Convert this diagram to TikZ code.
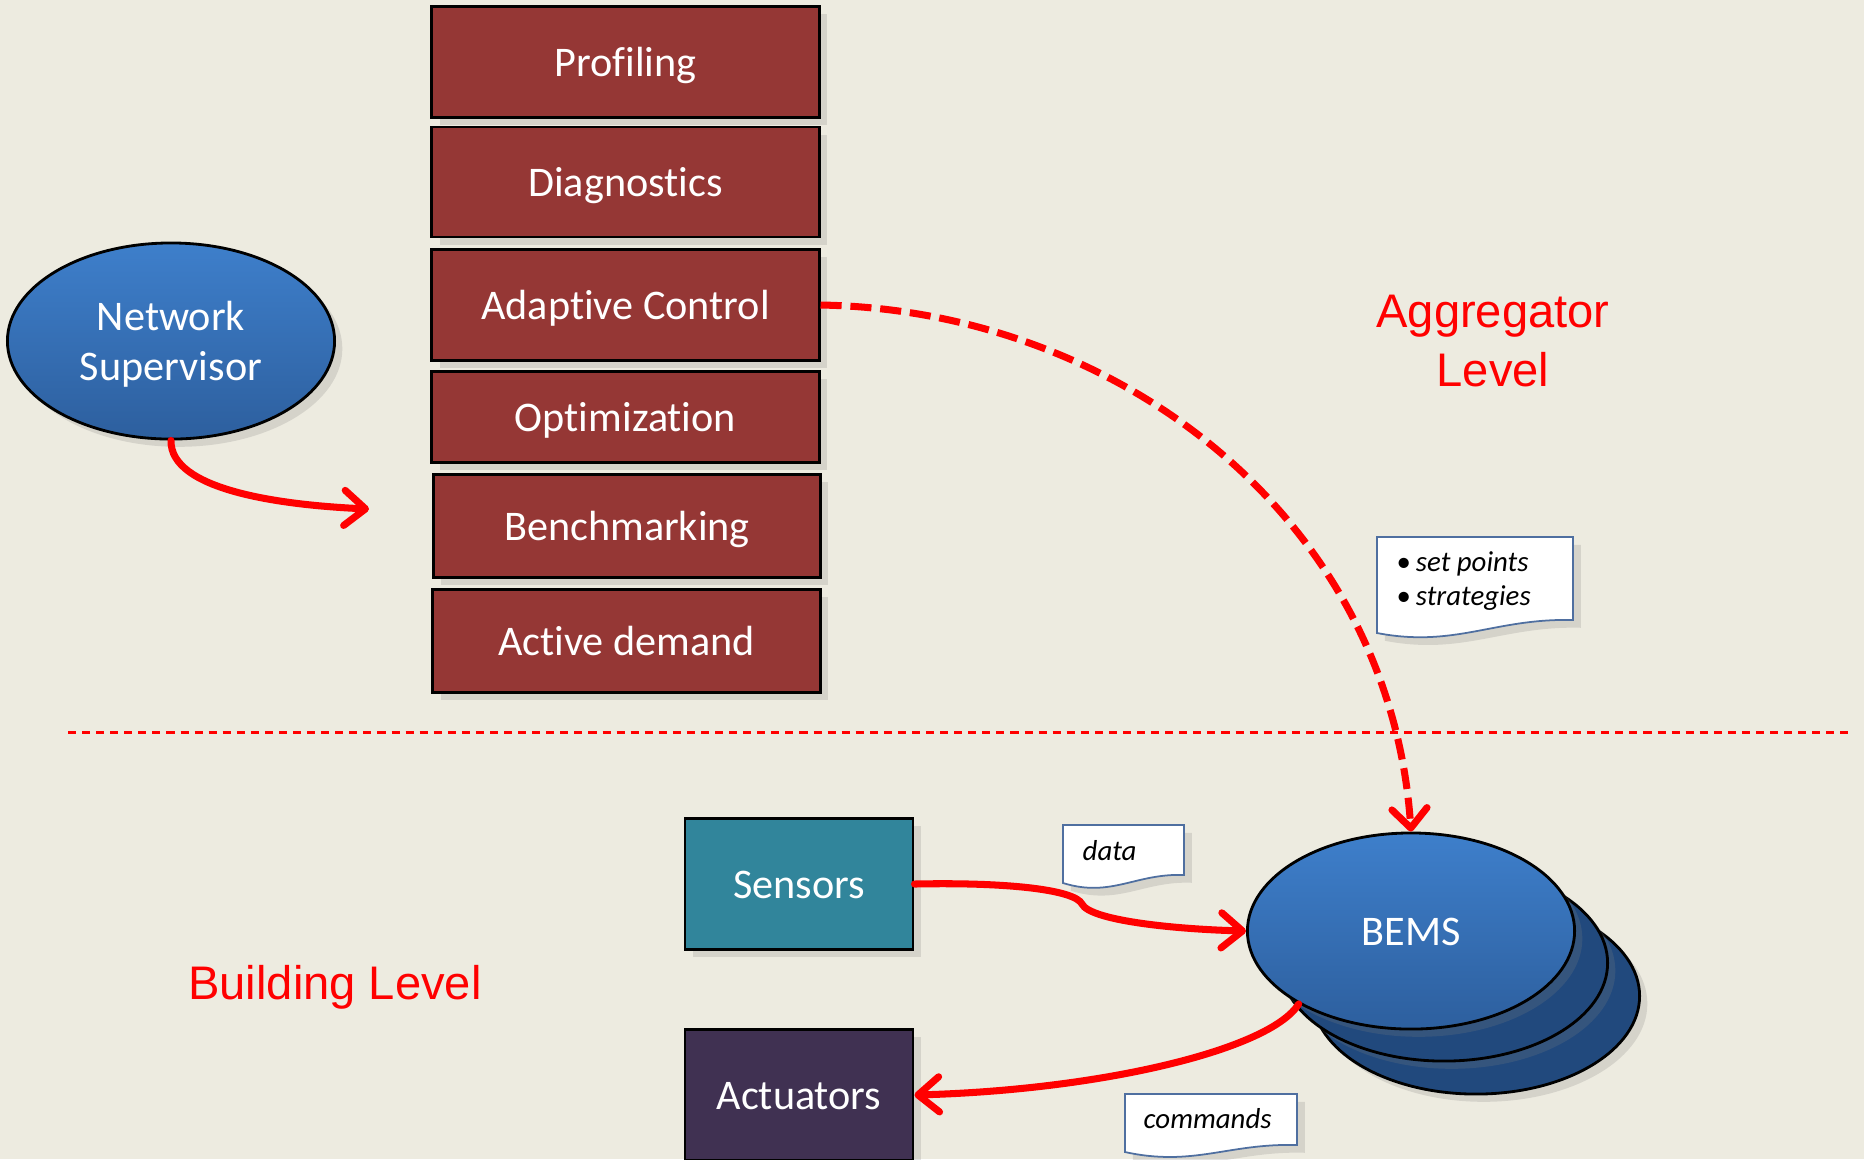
\documentclass[tikz,border=0pt]{standalone}
\usepackage{fontspec}
\setmainfont{Carlito}[Ligatures={NoCommon}]
\newfontfamily\lvlfont{Liberation Sans}
\usetikzlibrary{shapes.geometric,shadows,arrows.meta,calc}

\definecolor{bgcol}{RGB}{237,235,224}
\definecolor{boxred}{RGB}{149,55,53}
\definecolor{sensTeal}{RGB}{49,133,155}
\definecolor{actPurple}{RGB}{64,49,82}
\definecolor{ellTop}{RGB}{62,127,203}
\definecolor{ellBot}{RGB}{45,95,158}
\definecolor{ellBack}{RGB}{33,73,125}
\definecolor{noteLine}{RGB}{79,111,160}

\tikzset{
  softshadow/.style={drop shadow={shadow xshift=2.2pt,shadow yshift=-2.2pt,opacity=.22}},
  funcbox/.style={draw=black,line width=.8pt,inner sep=0pt,minimum width=3.87cm,
    text height=.8em,text depth=0pt,
    text=white,font=\fontsize{12}{14.2}\selectfont,softshadow},
  ellbase/.style={ellipse,draw=black,line width=.8pt,inner sep=0pt,
    minimum width=3.27cm,minimum height=1.96cm,softshadow},
  ell/.style={ellbase,top color=ellTop,bottom color=ellBot,text=white,align=center,
    font=\fontsize{12}{14.2}\selectfont},
  flow/.style={draw=red,line width=2pt,line cap=round,
    -{Straight Barb[length=6pt,width=10pt,round]}},
  ctrl/.style={draw=red,line width=2pt,dash pattern=on 6pt off 2.5pt,
    -{Straight Barb[length=5.5pt,width=10pt,round]}},
  sepline/.style={draw=red,line width=.85pt,dash pattern=on 2.3pt off 1.7pt},
  note/.style={draw=noteLine,line width=.5pt,fill=white,softshadow},
  notetext/.style={inner sep=0pt,font=\fontsize{8.2}{9.7}\selectfont\itshape},
  lvl/.style={text=red,inner sep=0pt,font=\lvlfont\fontsize{13.4}{17}\selectfont}
}

\begin{document}
\begin{tikzpicture}[x=0.01cm,y=-0.01cm]
  \clip (0,0) rectangle (1864,1159);
  \fill[bgcol] (0,0) rectangle (1864,1159);

  \foreach \n/\t/\y/\h/\dx in {%
    prof/Profiling/62/111/0,
    diag/Diagnostics/182/110/0,
    adapt/Adaptive Control/305/111/0,
    opt/Optimization/417/91/0,
    bench/Benchmarking/526/103/1.5,
    active/Active demand/641/103/1}{%
      \node[funcbox,fill=boxred,minimum height=\h*0.01cm] (\n) at (625.5+\dx,\y) {\t};
    }

  \node[ell] (ns) at (171,341) {\rule{0pt}{.85em}Network\\Supervisor};
  \coordinate (nsTip) at (369,509);

  \node[ellbase,fill=ellBack] (bemsC) at (1476,996) {};
  \node[ellbase,fill=ellBack] (bemsB) at (1444,963) {};
  \node[ell,text height=.8em,text depth=0pt] (bems) at (1411,931) {BEMS};

  \node[funcbox,fill=sensTeal,minimum width=2.28cm,minimum height=1.31cm] (sens) at (799,884) {Sensors};
  \node[funcbox,fill=actPurple,minimum width=2.28cm,minimum height=1.31cm] (act) at (799,1095) {Actuators};

  \coordinate (sepL) at (68,732);
  \coordinate (sepR) at (1852,732);
  \draw[sepline] (sepL) -- (sepR);

  \foreach \xa/\ya/\xb/\yb/\yc in {1377/537/1573/633/620,1063/825/1184/883/875,1125/1094/1297/1152/1145}{%
    \draw[note] (\xa,\ya) -- (\xb,\ya) -- (\xb,\yc)
      .. controls ({\xb-0.4*(\xb-\xa)},{\yc-2}) and ({\xa+0.4*(\xb-\xa)},{\yb+15}) .. (\xa,\yb) -- cycle;
  }
  \node[notetext,anchor=north west,align=left] (spTxt) at (1396,551)
    {{\upshape\textbullet}\,set points\\{\upshape\textbullet}\,strategies};
  \node[notetext,anchor=base west] (dataTxt) at (1082,860) {data};
  \node[notetext,anchor=base west] (cmdTxt) at (1143,1128) {commands};

  \node[lvl,align=center] (aggLbl) at (1493,341) {Aggregator\\Level};
  \node[lvl,anchor=base] (bldLbl) at (335,999) {Building Level};

  \draw[flow] (ns.south) .. controls (170,490) and (280,505) .. (nsTip);
  \draw[ctrl] (adapt.east) .. controls (1120,310) and (1390,520) .. (bems.north);
  \draw[flow] (sens.east) .. controls (1010,882) and (1075,890) .. (1082,904)
    .. controls (1090,920) and (1170,929) .. (bems.west);
  \draw[flow] (bems.213) .. controls (1270,1050) and (1100,1090) .. (act.east);
\end{tikzpicture}
\end{document}
